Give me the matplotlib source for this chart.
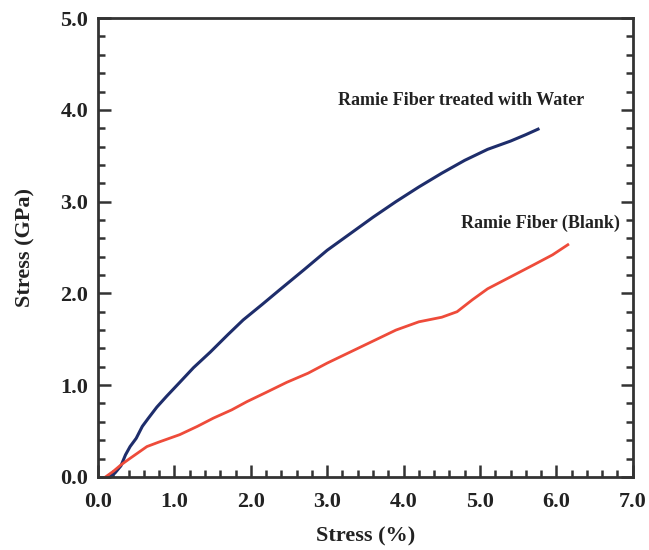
import matplotlib
matplotlib.use('Agg')
import matplotlib.pyplot as plt
from matplotlib.ticker import MultipleLocator

water_x = [0.15, 0.22, 0.30, 0.36, 0.42, 0.50, 0.58, 0.66, 0.77, 0.90, 1.07, 1.25, 1.47, 1.70,
           1.90, 2.15, 2.38, 2.70, 3.00, 3.30, 3.60, 3.90, 4.20, 4.50, 4.80, 5.10, 5.40, 5.60, 5.76]
water_y = [0.00, 0.04, 0.12, 0.24, 0.33, 0.42, 0.55, 0.64, 0.76, 0.88, 1.03, 1.19, 1.36, 1.55,
           1.71, 1.88, 2.04, 2.26, 2.47, 2.65, 2.83, 3.00, 3.16, 3.31, 3.45, 3.57, 3.66, 3.73, 3.79]

blank_x = [0.10, 0.20, 0.30, 0.40, 0.52, 0.64, 0.80, 1.07, 1.30, 1.51, 1.75, 1.95, 2.20, 2.47,
           2.75, 3.00, 3.30, 3.60, 3.90, 4.20, 4.50, 4.70, 4.90, 5.10, 5.40, 5.70, 5.95, 6.15]
blank_y = [0.00, 0.06, 0.13, 0.19, 0.26, 0.33, 0.38, 0.46, 0.55, 0.64, 0.73, 0.82, 0.92, 1.03,
           1.13, 1.24, 1.36, 1.48, 1.60, 1.69, 1.74, 1.80, 1.93, 2.05, 2.18, 2.31, 2.42, 2.53]

label_water = 'Ramie Fiber treated with Water'
label_blank = 'Ramie Fiber (Blank)'

plt.rcParams['font.family'] = ['Liberation Serif', 'DejaVu Serif']
plt.rcParams['font.weight'] = 'bold'

fig = plt.figure(figsize=(6.49, 5.5), dpi=100)
ax = fig.add_axes([0.151, 0.133, 0.824, 0.834])

ax.plot(water_x, water_y, color='#1e2d6b', lw=2.2)
ax.plot(blank_x, blank_y, color='#ee4b3a', lw=2.0)

ax.set_xlim(0, 7)
ax.set_ylim(0, 5)
ax.xaxis.set_major_locator(MultipleLocator(1))
ax.xaxis.set_minor_locator(MultipleLocator(0.2))
ax.yaxis.set_major_locator(MultipleLocator(1))
ax.yaxis.set_minor_locator(MultipleLocator(0.2))
ax.xaxis.set_major_formatter('{x:.1f}')
ax.yaxis.set_major_formatter('{x:.1f}')

ax.tick_params(which='both', direction='in', left=True, right=True, bottom=True, top=False,
               color='#333333', width=1.8, labelsize=16, labelcolor='#222222')
ax.tick_params(which='major', length=9, pad=7)
ax.tick_params(axis='x', which='major', pad=11)
ax.tick_params(which='minor', length=5)
for s in ax.spines.values():
    s.set_linewidth(2)
    s.set_color('#333333')

ax.set_xlabel('Stress (%)', fontsize=16, fontweight='bold', color='#222222', labelpad=10)
ax.set_ylabel('Stress (GPa)', fontsize=16, fontweight='bold', color='#222222', labelpad=18)

ax.text(4.75, 4.1, label_water, fontsize=13, fontweight='bold', color='#222222',
        ha='center', va='center')
ax.text(6.83, 2.76, label_blank, fontsize=13, fontweight='bold', color='#222222',
        ha='right', va='center')

fig.savefig('out.png', dpi=100)
